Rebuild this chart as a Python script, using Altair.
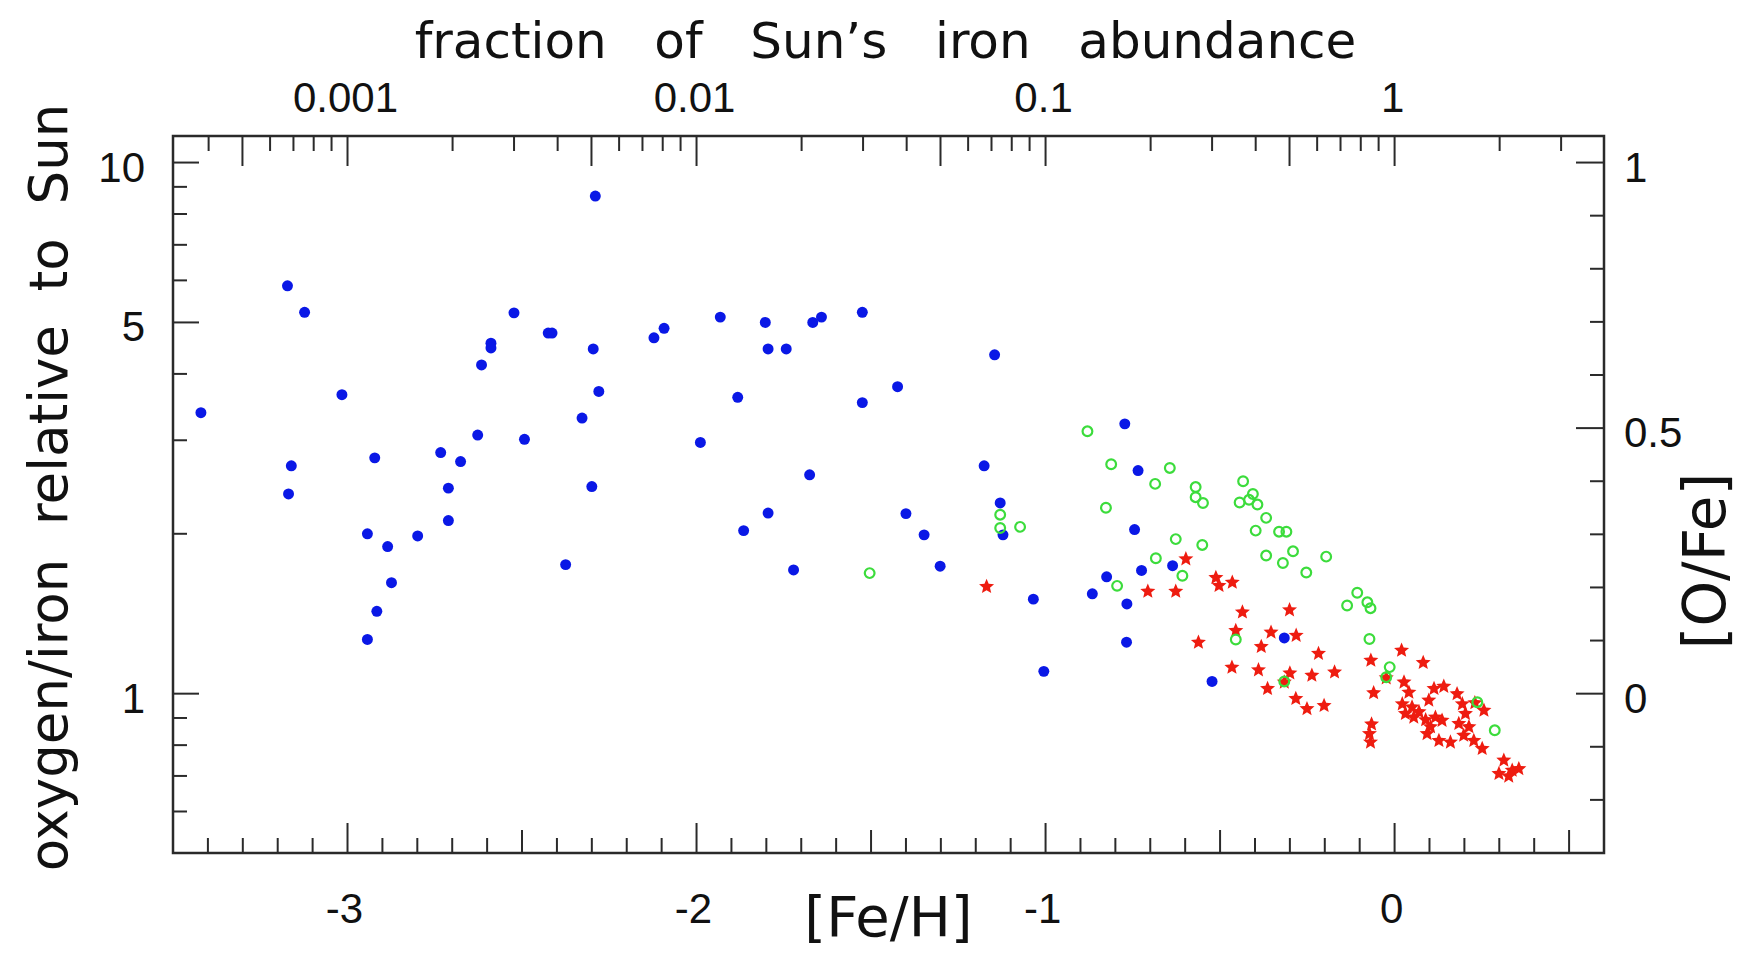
import math
import altair as alt
import pandas as pd

# ---------------- data ----------------
blue_feh = [-2.29, -3.172, -3.123, -3.420, -3.016, -2.523, -2.425, -2.414, -2.589, -2.589,
            -2.616, -2.296, -2.280, -2.328, -2.627, -2.493, -3.161, -2.922, -2.733, -2.676,
            -3.169, -2.711, -2.711, -2.943, -2.885, -2.799, -2.874, -2.916, -2.943, -2.375,
            -2.300, -2.122, -2.093, -1.932, -1.803, -1.795, -1.743, -1.667, -1.642, -1.525,
            -1.882, -1.525, -1.424, -1.146, -1.989, -1.176, -0.773, -0.735, -1.676, -1.795,
            -1.865, -1.722, -1.400, -1.348, -1.302, -1.130, -1.122, -1.035, -1.005, -0.866,
            -0.825, -0.767, -0.768, -0.745, -0.725, -0.636, -0.316, -0.523]
blue_ofe = [0.937, 0.768, 0.718, 0.529, 0.563, 0.717, 0.679, 0.679, 0.660, 0.651,
            0.619, 0.649, 0.569, 0.519, 0.487, 0.479, 0.429, 0.444, 0.454, 0.437,
            0.376, 0.387, 0.326, 0.301, 0.277, 0.297, 0.209, 0.155, 0.102, 0.243,
            0.390, 0.670, 0.688, 0.709, 0.699, 0.649, 0.649, 0.699, 0.709, 0.718,
            0.558, 0.548, 0.578, 0.638, 0.473, 0.429, 0.508, 0.420, 0.412, 0.340,
            0.307, 0.233, 0.339, 0.299, 0.240, 0.359, 0.299, 0.178, 0.042, 0.188,
            0.220, 0.169, 0.097, 0.309, 0.232, 0.241, 0.105, 0.023]

green_feh = [-1.504, -1.130, -1.130, -1.073, -0.795, -0.880, -0.812, -0.644, -0.686, -0.570,
             -0.570, -0.549, -0.434, -0.406, -0.417, -0.444, -0.393, -0.827, -0.368, -0.398,
             -0.331, -0.310, -0.627, -0.551, -0.368, -0.291, -0.196, -0.320, -0.253, -0.684,
             -0.608, -0.136, -0.107, -0.078, -0.069, -0.072, -0.014, -0.024, 0.237, 0.287,
             -0.455, -0.316]
green_ofe = [0.227, 0.337, 0.312, 0.314, 0.203, 0.494, 0.432, 0.425, 0.395, 0.389,
             0.370, 0.359, 0.400, 0.376, 0.365, 0.360, 0.356, 0.350, 0.331, 0.307,
             0.305, 0.305, 0.291, 0.280, 0.260, 0.268, 0.258, 0.246, 0.228, 0.255,
             0.222, 0.166, 0.190, 0.172, 0.161, 0.103, 0.050, 0.031, -0.016, -0.069,
             0.102, 0.023]

red_feh = [-1.169, -0.707, -0.627, -0.598, -0.512, -0.503, -0.465, -0.436, -0.301, -0.455,
           -0.562, -0.354, -0.282, -0.382, -0.466, -0.390, -0.218, -0.300, -0.316, -0.237,
           -0.172, -0.364, -0.283, -0.251, -0.202, -0.068, 0.020, 0.082, -0.060, -0.024,
           -0.066, -0.072, -0.069, 0.027, 0.041, 0.022, 0.050, 0.031, 0.055, 0.070,
           0.098, 0.113, 0.141, 0.089, 0.117, 0.136, 0.103, 0.093, 0.127, 0.160,
           0.179, 0.194, 0.203, 0.184, 0.213, 0.198, 0.227, 0.251, 0.256, 0.230,
           0.313, 0.337, 0.356, 0.327, 0.299]
red_ofe = [0.203, 0.194, 0.194, 0.255, 0.220, 0.205, 0.211, 0.155, 0.159, 0.120,
           0.098, 0.117, 0.111, 0.090, 0.051, 0.046, 0.077, 0.040, 0.023, 0.036,
           0.042, 0.011, -0.008, -0.027, -0.021, 0.064, 0.083, 0.060, 0.003, 0.031,
           -0.056, -0.074, -0.090, 0.023, 0.004, -0.018, -0.024, -0.036, -0.043, -0.033,
           -0.011, 0.011, 0.015, -0.048, -0.043, -0.049, -0.061, -0.074, -0.087, -0.090,
           0.001, -0.018, -0.036, -0.055, -0.061, -0.077, -0.087, -0.102, -0.030, -0.016,
           -0.124, -0.143, -0.140, -0.154, -0.149]

# axis labels
bottom_vals = [-3, -2, -1, 0]
bottom_text = ["-3", "-2", "-1", "0"]
top_vals = [-3, -2, -1, 0]
top_text = ["0.001", "0.01", "0.1", "1"]
left_ratio = [10, 5, 1]
left_text = ["10", "5", "1"]
right_vals = [0, 0.5, 1]
right_text = ["0", "0.5", "1"]

X_DOMAIN = [-3.5, 0.6]
Y_DOMAIN = [-0.3, 1.05]
W, H = 1431, 717

# tick positions
bottom_major = [-3, -2, -1, 0]
bottom_half = [-2.5, -1.5, -0.5, 0.5]
bottom_minor = [round(-3.4 + 0.1 * i, 2) for i in range(40)]
bottom_minor = [v for v in bottom_minor if abs(v * 2 - round(v * 2)) > 1e-6]

top_long = []
top_short = []
for d in [-4, -3, -2, -1, 0]:
    for k in range(1, 10):
        v = math.log10(k) + d
        if X_DOMAIN[0] + 1e-6 < v < X_DOMAIN[1] - 1e-6:
            (top_long if k in (1, 5) else top_short).append(v)

left_long = [math.log10(r) for r in left_ratio]
left_short = [math.log10(r) for r in [9, 8, 7, 6, 4, 3, 2, 0.9, 0.8, 0.7, 0.6]]
right_long = [0, 0.5, 1.0]
right_short = [-0.2, -0.1, 0.1, 0.2, 0.3, 0.4, 0.6, 0.7, 0.8, 0.9]

xs = alt.Scale(domain=X_DOMAIN, nice=False, zero=False)
ys = alt.Scale(domain=Y_DOMAIN, nice=False, zero=False)
AX = "#2a2a2a"

STAR = ("M0,-0.9 L0.265,-0.264 L0.951,-0.209 L0.428,0.239 L0.588,0.909 L0,0.55 "
        "L-0.588,0.909 L-0.428,0.239 L-0.951,-0.209 L-0.265,-0.264 Z")

def xtick_layer(vals, y1, y2):
    df = pd.DataFrame({"v": vals})
    return alt.Chart(df).mark_rule(color=AX, strokeWidth=2).encode(
        x=alt.X("v:Q", scale=xs, axis=None), y=alt.value(y1), y2=alt.value(y2))

def ytick_layer(vals, x1, x2):
    df = pd.DataFrame({"v": vals})
    return alt.Chart(df).mark_rule(color=AX, strokeWidth=2).encode(
        y=alt.Y("v:Q", scale=ys, axis=None), x=alt.value(x1), x2=alt.value(x2))

ticks = [
    xtick_layer(bottom_major, H, H - 30),
    xtick_layer(bottom_half, H, H - 23),
    xtick_layer(bottom_minor, H, H - 15),
    xtick_layer(top_long, 0, 30),
    xtick_layer(top_short, 0, 15),
    ytick_layer(left_long, 0, 26),
    ytick_layer(left_short, 0, 14),
    ytick_layer(right_long, W, W - 28),
    ytick_layer(right_short, W, W - 14),
]

LBL = dict(font="Liberation Sans", fontSize=42, color="#111111")

bl = alt.Chart(pd.DataFrame({"v": bottom_vals, "t": bottom_text})).mark_text(
    align="center", baseline="middle", dx=-3, dy=2, **LBL).encode(
    x=alt.X("v:Q", scale=xs, axis=None), y=alt.value(H + 55), text="t:N")
tl = alt.Chart(pd.DataFrame({"v": top_vals, "t": top_text})).mark_text(
    align="center", baseline="middle", dx=-2, **LBL).encode(
    x=alt.X("v:Q", scale=xs, axis=None), y=alt.value(-37), text="t:N")
ll = alt.Chart(pd.DataFrame({"v": left_long, "t": left_text})).mark_text(
    align="right", baseline="middle", dy=6, **LBL).encode(
    y=alt.Y("v:Q", scale=ys, axis=None), x=alt.value(-28), text="t:N")
rl = alt.Chart(pd.DataFrame({"v": right_vals, "t": right_text})).mark_text(
    align="left", baseline="middle", dy=6, **LBL).encode(
    y=alt.Y("v:Q", scale=ys, axis=None), x=alt.value(W + 20), text="t:N")

TF = "DejaVu Sans"
NB = "\u00a0"
sp1 = " " + NB
sp2 = " " + NB + NB
top_title = alt.Chart(pd.DataFrame({"t": ["fraction" + sp2 + "of" + sp2 + "Sun\u2019s" + sp2 + "iron" + sp2 + "abundance"]})).mark_text(
    font=TF, fontSize=50, align="center", baseline="alphabetic", color="#111111").encode(
    x=alt.value(W / 2 - 3), y=alt.value(-78), text="t:N")
left_title = alt.Chart(pd.DataFrame({"t": ["oxygen/iron" + sp1 + "relative" + sp1 + "to" + sp1 + "Sun"]})).mark_text(
    font=TF, fontSize=53, align="center", baseline="middle", angle=270, color="#111111").encode(
    x=alt.value(-122), y=alt.value(H / 2 - 7), text="t:N")
bottom_title = alt.Chart(pd.DataFrame({"t": ["[Fe/H]"]})).mark_text(
    font=TF, fontSize=56, align="center", baseline="alphabetic", color="#111111").encode(
    x=alt.value(W / 2), y=alt.value(H + 83), text="t:N")
right_title = alt.Chart(pd.DataFrame({"t": ["[O/Fe]"]})).mark_text(
    font=TF, fontSize=58, align="center", baseline="middle", angle=270, color="#111111").encode(
    x=alt.value(W + 104), y=alt.value(425), text="t:N")

red = alt.Chart(pd.DataFrame({"feh": red_feh, "ofe": red_ofe})).mark_point(
    shape=STAR, filled=True, size=250, color="#ee1c10", opacity=1, strokeWidth=0).encode(
    x=alt.X("feh:Q", scale=xs, axis=None), y=alt.Y("ofe:Q", scale=ys, axis=None))
blue = alt.Chart(pd.DataFrame({"feh": blue_feh, "ofe": blue_ofe})).mark_point(
    shape="circle", filled=True, size=120, color="#0a18e6", opacity=1, strokeWidth=0).encode(
    x=alt.X("feh:Q", scale=xs, axis=None), y=alt.Y("ofe:Q", scale=ys, axis=None))
green = alt.Chart(pd.DataFrame({"feh": green_feh, "ofe": green_ofe})).mark_point(
    shape="circle", filled=False, size=95, color="#3cdc3c", opacity=1, strokeWidth=2.2).encode(
    x=alt.X("feh:Q", scale=xs, axis=None), y=alt.Y("ofe:Q", scale=ys, axis=None))

chart = alt.layer(
    *ticks, red, blue, green, bl, tl, ll, rl, top_title, left_title, bottom_title, right_title
).properties(
    width=W, height=H,
    autosize=alt.AutoSizeParams(type="none"),
    padding={"left": 165, "top": 128, "right": 140, "bottom": 98},
    background="white",
).configure_view(stroke=AX, strokeWidth=2.5)

chart.save("out.html", embed_options={"renderer": "svg", "actions": False})
